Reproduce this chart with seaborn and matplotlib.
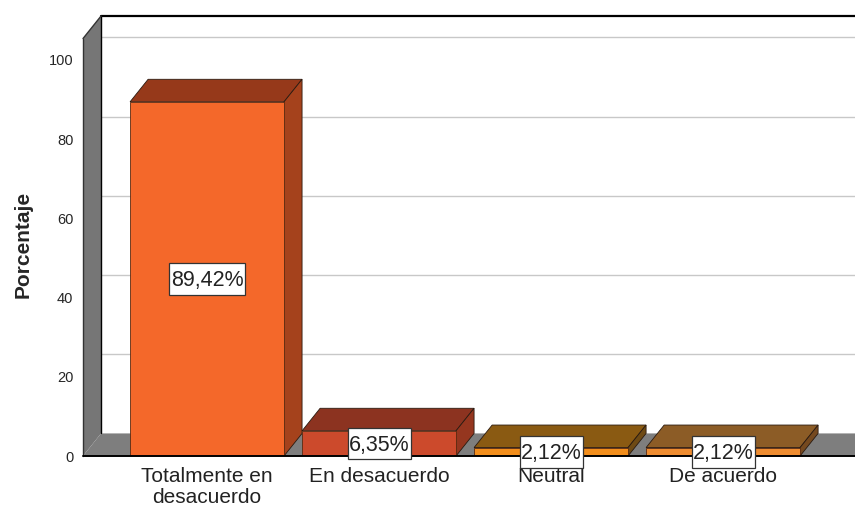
import seaborn as sns
import matplotlib.pyplot as plt
from matplotlib.patches import Polygon, Rectangle

categorias = ['Totalmente en\ndesacuerdo', 'En desacuerdo', 'Neutral', 'De acuerdo']
porcentajes = [89.42, 6.35, 2.12, 2.12]
etiquetas = ['89,42%', '6,35%', '2,12%', '2,12%']
y_ticks = [0, 20, 40, 60, 80, 100]

color_frente = ['#F4682A', '#CC4A2C', '#F28E1C', '#EE8C30']
color_arriba = ['#96391A', '#8C3320', '#8A5A12', '#8C5C26']
color_lado = ['#A5421C', '#95361F', '#6E4A14', '#75491F']

sns.set_style('white')
plt.rcParams['font.family'] = ['Liberation Sans', 'DejaVu Sans']

fig = plt.figure(figsize=(8.55, 5.07), dpi=100)
# eje en pixeles: izquierda 83, derecha 855, arriba 16, abajo 456
ax = fig.add_axes([83 / 855, (507 - 456) / 507, (855 - 83) / 855, (456 - 16) / 507])

ancho = 0.895
dx = 0.105  # profundidad 3d
dy = 5.7
x0, x1 = -0.721, 3.767
y1 = 111.1

# paredes
ax.add_patch(Polygon([(x0, 0), (x0 + dx, dy), (x0 + dx, y1), (x0, y1 - dy)],
                     closed=True, fc='#767676', ec='none', zorder=1))
ax.add_patch(Polygon([(x0, 0), (x0 + dx, dy), (x1 + dx, dy), (x1, 0)],
                     closed=True, fc='#7E7E7E', ec='none', zorder=1))

# lineas de la pared del fondo
for t in y_ticks[1:]:
    ax.plot([x0 + dx, x1], [t + dy, t + dy], color='#C8C8C8', lw=1, zorder=1)
ax.plot([x0 + dx, x1], [y1, y1], color='black', lw=1.6, zorder=2, clip_on=False)
ax.plot([x0 + dx, x0 + dx], [dy, y1], color='black', lw=1, zorder=2, clip_on=False)
ax.plot([x0, x0], [0, y1 - dy], color='#333333', lw=1, zorder=2, clip_on=False)
ax.plot([x0, x0 + dx], [y1 - dy, y1], color='#333333', lw=1, zorder=2, clip_on=False)

sns.barplot(x=categorias, y=porcentajes, hue=categorias, palette=color_frente,
            legend=False, width=ancho, saturation=1, ax=ax, zorder=4,
            edgecolor='#5A2A10', linewidth=0.6)

# caras superior y lateral de cada barra
for i, v in enumerate(porcentajes):
    izq = i - ancho / 2
    der = i + ancho / 2
    ax.add_patch(Polygon([(izq, v), (izq + dx, v + dy), (der + dx, v + dy), (der, v)],
                         closed=True, fc=color_arriba[i], ec='#2A1A10', lw=0.6, zorder=3))
    ax.add_patch(Polygon([(der, 0), (der + dx, dy), (der + dx, v + dy), (der, v)],
                         closed=True, fc=color_lado[i], ec='#2A1A10', lw=0.6, zorder=3))
    # caja blanca de la etiqueta, mas alta que el texto
    w = 0.0733 * len(etiquetas[i])
    ax.add_patch(Rectangle((i - w / 2, v / 2 - 4), w, 8, fc='white', ec='#333333', lw=0.9,
                           zorder=6, clip_on=False))
    ax.text(i, v / 2 - 0.4, etiquetas[i], ha='center', va='center', fontsize=15.5, color='#222222', zorder=7)

ax.plot([x0, x1], [0, 0], color='black', lw=1.4, zorder=5, clip_on=False)

ax.set_xlim(x0, x1)
ax.set_ylim(0, y1)
ax.set_yticks(y_ticks)
ax.tick_params(axis='y', length=0, pad=7, labelsize=10.5)
ax.tick_params(axis='x', length=0, pad=8, labelsize=15, labelcolor='#222222')
for lab in ax.get_xticklabels():
    lab.set_linespacing(1.1)
ax.set_ylabel('Porcentaje', fontsize=15, fontweight='bold')
ax.yaxis.set_label_coords(-0.065, 0.48)
sns.despine(ax=ax, left=True, bottom=True)

fig.savefig('out.png', dpi=100)
